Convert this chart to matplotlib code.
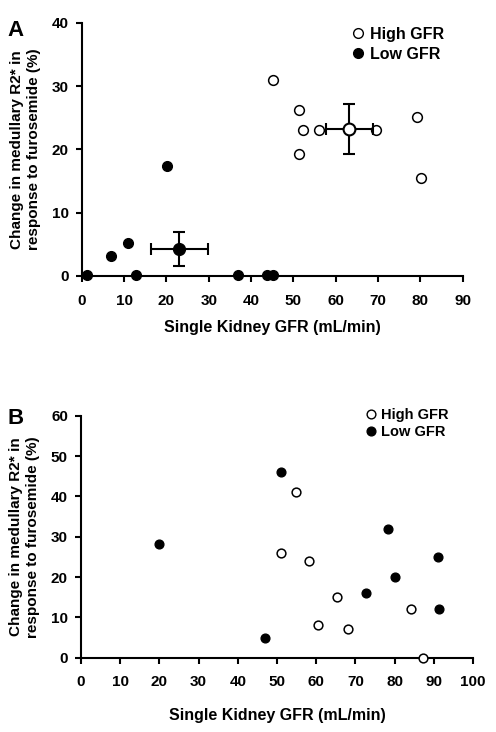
import matplotlib
matplotlib.use("Agg")
import matplotlib.pyplot as plt
from matplotlib.lines import Line2D

plt.rcParams["font.family"] = ["Liberation Sans", "DejaVu Sans"]
plt.rcParams["font.weight"] = "bold"

# Panel A data
a_high_x = [45.2, 51.2, 52.2, 51.4, 56.0, 69.4, 79.1, 80.1]
a_high_y = [31.0, 26.2, 23.1, 19.3, 23.1, 23.1, 25.1, 15.5]
a_low_x = [1.3, 6.8, 11.0, 12.8, 20.1, 36.9, 43.8, 45.1]
a_low_y = [0.1, 3.2, 5.2, 0.1, 17.3, 0.2, 0.2, 0.2]
a_high_mean = (63.2, 23.2)
a_high_xerr = 5.6
a_high_yerr = 4.0
a_low_mean = (23.0, 4.3)
a_low_xerr = 6.7
a_low_yerr = 2.7

# Panel B data
b_high_x = [54.9, 51.0, 58.1, 65.4, 60.5, 68.1, 84.2, 87.1]
b_high_y = [41.0, 26.0, 24.0, 15.0, 8.0, 7.0, 12.0, 0.0]
b_low_x = [20.0, 51.1, 47.0, 78.4, 80.1, 72.8, 91.1, 91.2]
b_low_y = [28.1, 46.1, 5.0, 31.9, 20.0, 16.0, 25.0, 12.1]

YLABEL = "Change in medullary R2* in\nresponse to furosemide (%)"
XLABEL = "Single Kidney GFR (mL/min)"

fig = plt.figure(figsize=(4.96, 7.32), dpi=100)


def style_axes(ax, xmax, xstep, ymax, ystep):
    ax.set_xlim(0, xmax)
    ax.set_ylim(0, ymax)
    ax.set_xticks(range(0, xmax + 1, xstep))
    ax.set_yticks(range(0, ymax + 1, ystep))
    for s in ("top", "right"):
        ax.spines[s].set_visible(False)
    for s in ("left", "bottom"):
        ax.spines[s].set_linewidth(1.5)
    ax.tick_params(direction="out", length=4.3, width=1.5, labelsize=11)
    ax.tick_params(axis="x", pad=8.5)
    ax.tick_params(axis="y", pad=5)
    for lab in ax.get_xticklabels() + ax.get_yticklabels():
        lab.set_fontweight("bold")
    ax.set_xlabel(XLABEL, fontsize=11.5, fontweight="bold", labelpad=8)
    ax.set_ylabel(YLABEL, fontsize=11, fontweight="bold", labelpad=8, linespacing=1.3)


# ---- Panel A
axA = fig.add_axes([0.165, 0.623, 0.768, 0.346])
axA.plot(a_low_x, a_low_y, "o", ms=7, mfc="black", mec="black", clip_on=False, zorder=3)
axA.plot(a_high_x, a_high_y, "o", ms=7, mfc="white", mec="black", mew=1.1, clip_on=False, zorder=3)
axA.errorbar([a_low_mean[0]], [a_low_mean[1]], xerr=a_low_xerr, yerr=a_low_yerr,
             fmt="o", ms=8.5, mfc="black", mec="black", ecolor="black",
             elinewidth=1.5, capsize=4, capthick=1.5, zorder=4)
axA.errorbar([a_high_mean[0]], [a_high_mean[1]], xerr=a_high_xerr, yerr=a_high_yerr,
             fmt="o", ms=8.5, mfc="white", mec="black", mew=1.5, ecolor="black",
             elinewidth=1.5, capsize=4, capthick=1.5, zorder=4)
style_axes(axA, 90, 10, 40, 10)
axA.xaxis.labelpad = 9
handles = [Line2D([], [], ls="", marker="o", ms=7, mfc="white", mec="black"),
           Line2D([], [], ls="", marker="o", ms=7, mfc="black", mec="black")]
axA.legend(handles, ["High GFR", "Low GFR"], loc="upper right", bbox_to_anchor=(0.99, 1.04),
           frameon=False, prop={"size": 11.5, "weight": "bold"}, handletextpad=0.2,
           labelspacing=0.3, handlelength=1.2)
fig.text(0.015, 0.973, "A", fontsize=16, fontweight="bold", va="top")

# ---- Panel B
axB = fig.add_axes([0.163, 0.1015, 0.791, 0.3305])
axB.plot(b_low_x, b_low_y, "o", ms=6.3, mfc="black", mec="black", clip_on=False, zorder=3)
axB.plot(b_high_x, b_high_y, "o", ms=6.3, mfc="white", mec="black", mew=1.1, clip_on=False, zorder=3)
style_axes(axB, 100, 10, 60, 10)
axB.xaxis.labelpad = 13
handlesB = [Line2D([], [], ls="", marker="o", ms=6.3, mfc="white", mec="black"),
            Line2D([], [], ls="", marker="o", ms=6.3, mfc="black", mec="black")]
axB.legend(handlesB, ["High GFR", "Low GFR"], loc="upper right", bbox_to_anchor=(0.97, 1.085),
           frameon=False, prop={"size": 10.5, "weight": "bold"}, handletextpad=0.1,
           labelspacing=0.2, handlelength=1.2)
fig.text(0.015, 0.443, "B", fontsize=16, fontweight="bold", va="top")

fig.savefig("out.png", dpi=100)
